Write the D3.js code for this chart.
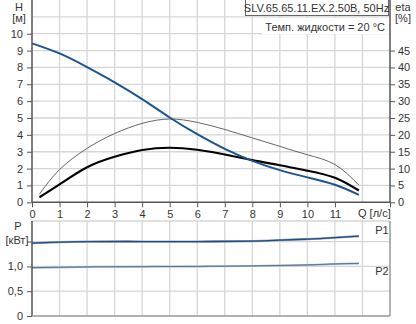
<!DOCTYPE html>
<html>
<head>
<meta charset="utf-8">
<script src="https://cdn.jsdelivr.net/npm/d3@7"></script>
<style>
  body { margin: 0; background: #fff; }
  svg { display: block; font-family: "Liberation Sans", Arial, sans-serif; }
  .lbl { font-size: 11px; fill: #333; }
</style>
</head>
<body>
<div id="chart"></div>
<script>
// pump curve: head, efficiencies and power vs flow
const qTicks = [0, 1, 2, 3, 4, 5, 6, 7, 8, 9, 10, 11];
const hTicks = [0, 1, 2, 3, 4, 5, 6, 7, 8, 9, 10];
const etaTicks = [0, 5, 10, 15, 20, 25, 30, 35, 40, 45];
const pTicks = [0, 0.5, 1.0];

const headQ = [0, 1, 2, 3, 4, 5, 6, 7, 8, 9, 10, 11, 11.87];
const headH = [9.43, 8.83, 8.02, 7.12, 6.12, 5.03, 4.04, 3.17, 2.46, 1.91, 1.48, 1.04, 0.44];

const etaQ = [0.27, 1, 2, 3, 4, 5, 6, 7, 8, 9, 10, 11, 11.87];
const etaPump = [2.4, 9.7, 16.0, 20.4, 23.4, 24.7, 23.7, 21.6, 19.1, 16.6, 14.1, 11.2, 5.1];
const etaTotal = [1.5, 5.3, 10.4, 13.5, 15.5, 16.2, 15.6, 14.2, 12.5, 11.0, 9.4, 7.3, 3.5];

const p1Q = [0, 1, 2, 4, 6, 8, 9, 10, 11, 11.87];
const p1 = [1.47, 1.49, 1.50, 1.50, 1.50, 1.51, 1.53, 1.55, 1.58, 1.61];
const p2Q = [0, 2, 4, 6, 8, 10, 11, 11.87];
const p2 = [0.975, 0.99, 0.995, 1.0, 1.01, 1.03, 1.05, 1.06];

const W = 416, H = 324;
const svg = d3.select("#chart").append("svg").attr("width", W).attr("height", H);

const x = d3.scaleLinear().domain([0, 13]).range([32, 390]);
const yH = d3.scaleLinear().domain([0, 12]).range([202.3, 0]);
const yEta = d3.scaleLinear().domain([0, 60]).range([202.3, 0]);
const yP = d3.scaleLinear().domain([0, 1.915]).range([316, 221]);

const gridCol = "#d6d6d6";
const axisCol = "#555";

// --- grid
const grid = svg.append("g").attr("stroke", gridCol).attr("stroke-width", 1.3);
d3.range(1, 13).forEach((q) => {
  grid.append("line").attr("x1", x(q)).attr("x2", x(q)).attr("y1", 0).attr("y2", yH(0));
  grid.append("line").attr("x1", x(q)).attr("x2", x(q)).attr("y1", yP.range()[1]).attr("y2", yP(0));
});
d3.range(1, 12).forEach((h) => {
  grid.append("line").attr("x1", x(0)).attr("x2", x(13)).attr("y1", yH(h)).attr("y2", yH(h));
});
[0.5, 1.0, 1.5].forEach((p) => {
  grid.append("line").attr("x1", x(0)).attr("x2", x(13)).attr("y1", yP(p)).attr("y2", yP(p));
});
grid.append("line").attr("x1", x(0)).attr("x2", x(13)).attr("y1", 221).attr("y2", 221);

// white patch behind temperature note
svg.append("rect").attr("x", 262).attr("y", 18).attr("width", 127).attr("height", 16).attr("fill", "#fff");

// --- curves
const line = d3.line().curve(d3.curveNatural);

svg.append("path")
  .attr("d", line(etaQ.map((q, i) => [x(q), yEta(etaPump[i])])))
  .attr("fill", "none").attr("stroke", "#555").attr("stroke-width", 0.9);

svg.append("path")
  .attr("d", line(etaQ.map((q, i) => [x(q), yEta(etaTotal[i])])))
  .attr("fill", "none").attr("stroke", "#000").attr("stroke-width", 2.1);

svg.append("path")
  .attr("d", line(headQ.map((q, i) => [x(q), yH(headH[i])])))
  .attr("fill", "none").attr("stroke", "#1d5390").attr("stroke-width", 2);

// power curves
svg.append("path")
  .attr("d", line(p1Q.map((q, i) => [x(q), yP(p1[i])])))
  .attr("fill", "none").attr("stroke", "#9aa6bd").attr("stroke-width", 2.4);
svg.append("path")
  .attr("d", line(p1Q.map((q, i) => [x(q), yP(p1[i])])))
  .attr("fill", "none").attr("stroke", "#1c4a82").attr("stroke-width", 1.4);
svg.append("path")
  .attr("d", line(p2Q.map((q, i) => [x(q), yP(p2[i])])))
  .attr("fill", "none").attr("stroke", "#aab3c5").attr("stroke-width", 2);
svg.append("path")
  .attr("d", line(p2Q.map((q, i) => [x(q), yP(p2[i])])))
  .attr("fill", "none").attr("stroke", "#2c5890").attr("stroke-width", 1).attr("opacity", 0.7);

// --- axes, top plot
const xAxis = svg.append("g").attr("transform", `translate(0,${yH(0)})`)
  .call(d3.axisBottom(x).tickValues(qTicks.concat([13])).tickSize(5).tickFormat((d) => d === 13 ? "" : d));
const leftAxis = svg.append("g").attr("transform", `translate(${x(0)},0)`)
  .call(d3.axisLeft(yH).tickValues(hTicks).tickSize(5).tickPadding(4));
const rightAxis = svg.append("g").attr("transform", `translate(${x(13)},0)`)
  .call(d3.axisRight(yEta).tickValues(etaTicks).tickSize(5).tickPadding(3));

// bottom plot axes
const pLeft = svg.append("g").attr("transform", `translate(${x(0)},0)`)
  .call(d3.axisLeft(yP).tickValues(pTicks.concat([1.5])).tickSize(5).tickPadding(4)
    .tickFormat((d) => d === 1.5 ? "" : d === 0 ? "0" : d3.format(".1f")(d).replace(".", ",")));

[xAxis, leftAxis, rightAxis, pLeft].forEach((g) => {
  g.select(".domain").remove();
  g.selectAll(".tick line").attr("stroke", axisCol);
  g.selectAll(".tick text").attr("class", "lbl").attr("font-family", null).attr("font-size", null);
});

// axis lines
const al = svg.append("g").attr("stroke", axisCol).attr("stroke-width", 1.5);
al.append("line").attr("x1", x(0)).attr("x2", x(0)).attr("y1", 0).attr("y2", yH(0));
al.append("line").attr("x1", x(0)).attr("x2", x(13)).attr("y1", yH(0)).attr("y2", yH(0));
al.append("line").attr("x1", x(13)).attr("x2", x(13)).attr("y1", 0).attr("y2", yH(0));
al.append("line").attr("x1", x(0)).attr("x2", x(0)).attr("y1", 221).attr("y2", yP(0));
al.append("line").attr("x1", x(0)).attr("x2", x(13)).attr("y1", yP(0)).attr("y2", yP(0)).attr("stroke", "#999");
al.append("line").attr("x1", x(13)).attr("x2", x(13)).attr("y1", 221).attr("y2", yP(0)).attr("stroke", "#999");

// --- labels
const txt = (tx, ty, s, anchor) => svg.append("text").attr("class", "lbl")
  .attr("x", tx).attr("y", ty).attr("text-anchor", anchor || "middle").text(s);

txt(19, 11, "H");
txt(19, 22, "[м]");
txt(403, 11, "eta");
txt(403, 22, "[%]");
txt(358, 217, "Q [л/с]", "start");
txt(18, 230, "P");
txt(17, 244, "[кВт]");
txt(382, 234, "P1");
txt(382, 275, "P2");

// title box
svg.append("rect").attr("x", 245.5).attr("y", -1).attr("width", 143).attr("height", 16.5)
  .attr("fill", "#fff").attr("stroke", "#666").attr("stroke-width", 1);
txt(316.5, 12, "SLV.65.65.11.EX.2.50B, 50Hz");
txt(385, 31, "Темп. жидкости = 20 °C", "end");
</script>
</body>
</html>
